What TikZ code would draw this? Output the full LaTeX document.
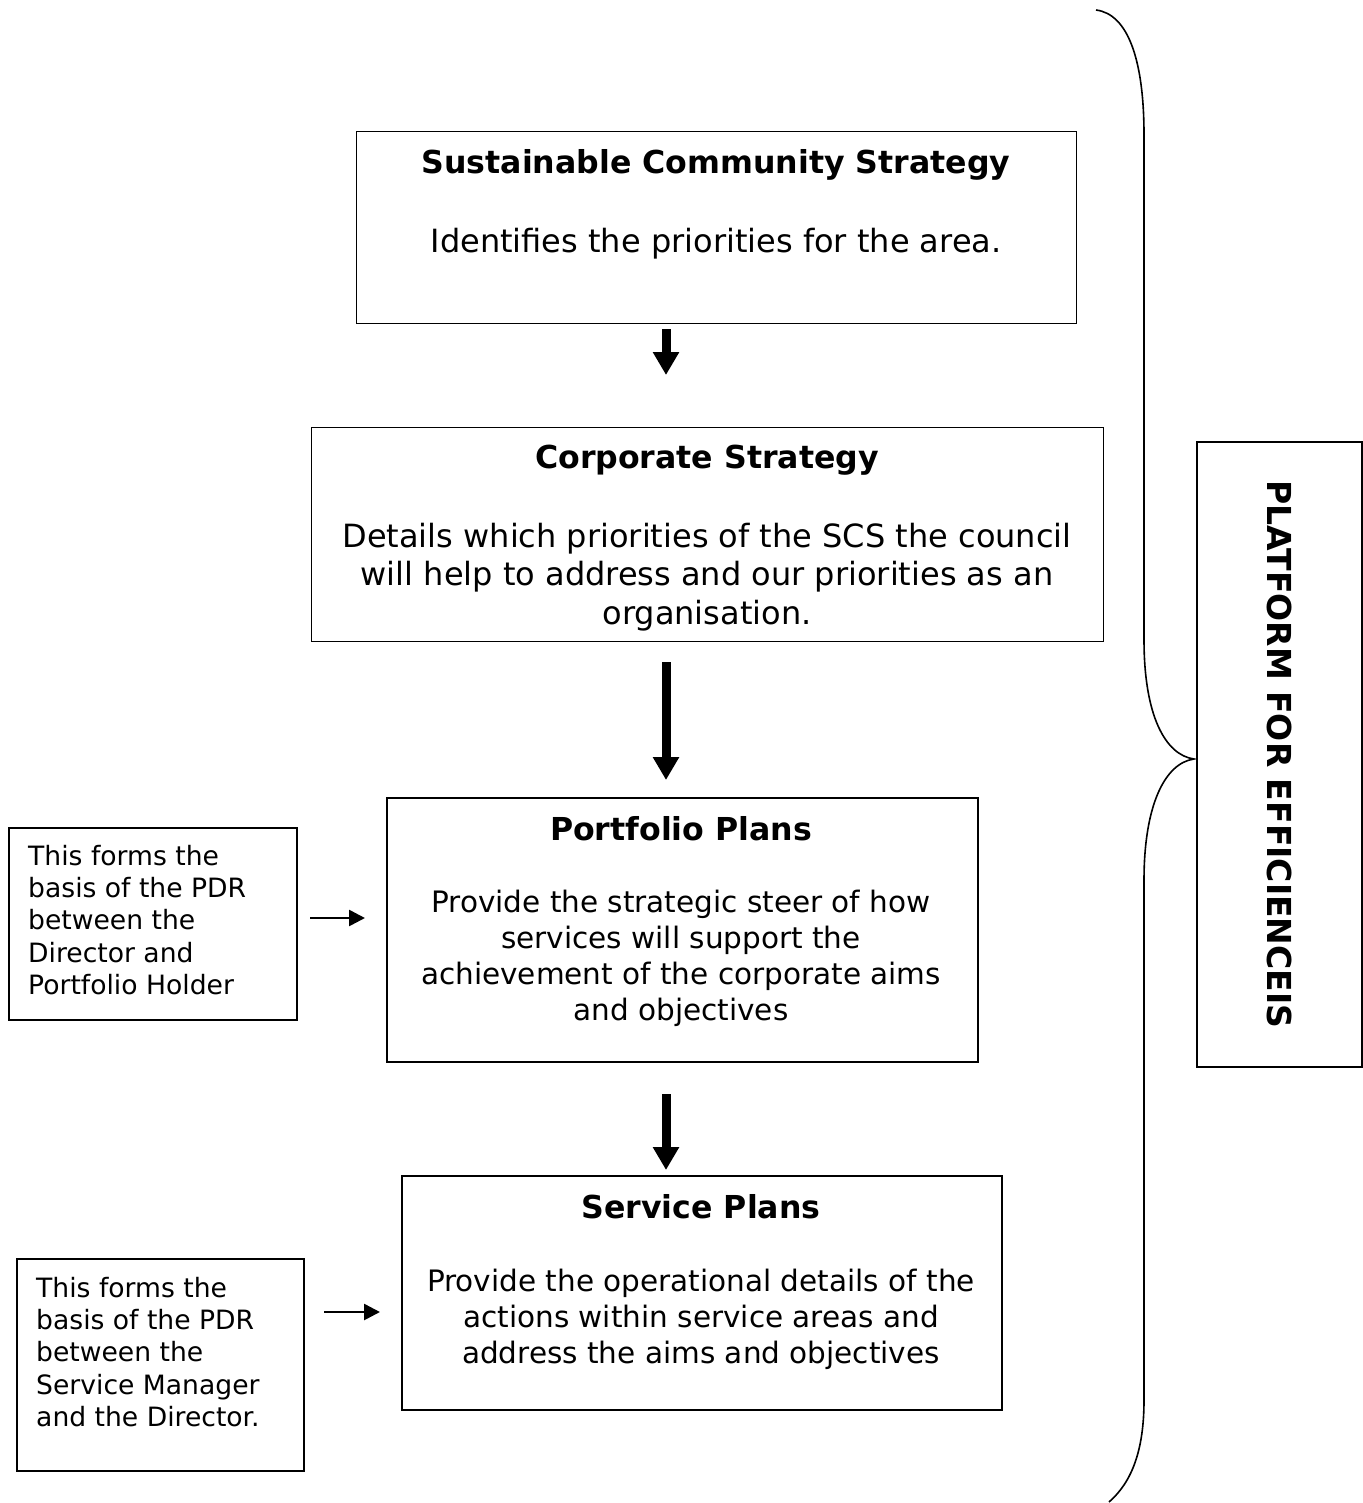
\documentclass[tikz,border=0pt]{standalone}
\usepackage{fontspec}
\setmainfont{DejaVu Sans}
\usetikzlibrary{arrows.meta}
\begin{document}
\begin{tikzpicture}[x=1pt,y=-1pt,
  boxthin/.style={draw,line width=1.2pt,inner sep=0pt,anchor=north west},
  titletxt/.style={font=\fontsize{31.6}{36}\selectfont\bfseries,inner sep=0pt},
  bodytxt/.style={font=\fontsize{29.5}{36}\selectfont,align=center,inner sep=0pt},
  sidetxt/.style={font=\fontsize{26.6}{32.3}\selectfont,align=left,inner sep=0pt,anchor=west},
  bigarr/.style={line width=9pt,-{Triangle[width=25pt,length=23pt]}},
  smallarr/.style={line width=2.6pt,-{Triangle[width=16pt,length=16pt]}},
  bracestyle/.style={line width=1.6pt}]
\useasboundingbox (0,0) rectangle (1362,1503);
% main boxes
\node[boxthin,minimum width=720pt,minimum height=192pt] (scs) at (356,131) {};
\node[boxthin,minimum width=792pt,minimum height=214pt] (corp) at (311,427) {};
\node[boxthin,line width=2.2pt,minimum width=591pt,minimum height=264pt] (port) at (386,797) {};
\node[boxthin,line width=1.6pt,minimum width=600pt,minimum height=234pt] (serv) at (401,1175) {};
% side boxes
\node[boxthin,line width=1.6pt,minimum width=288pt,minimum height=192pt] (side1) at (8,827) {};
\node[boxthin,line width=1.6pt,minimum width=287pt,minimum height=212pt] (side2) at (16,1258) {};
% right box
\node[boxthin,line width=1.8pt,minimum width=165pt,minimum height=625pt] (plat) at (1196,441) {};
% texts
\node[titletxt] (scst) at (716,165) {Sustainable Community Strategy};
\node[bodytxt,font=\fontsize{32}{38.5}\selectfont] (scsb) at (716,244) {Identifies the priorities for the area.};
\node[titletxt] (corpt) at (707,460) {Corporate Strategy};
\node[bodytxt,font=\fontsize{32}{38.5}\selectfont] (corpb) at (707,577) {Details which priorities of the SCS the council\\will help to address and our priorities as an\\organisation.};
\node[titletxt] (portt) at (681,829) {Portfolio Plans};
\node[bodytxt] (portb) at (681,958) {Provide the strategic steer of how\\services will support the\\achievement of the corporate aims\\and objectives};
\node[titletxt] (servt) at (701,1207) {Service Plans};
\node[bodytxt] (servb) at (701,1319) {Provide the operational details of the\\actions within service areas and\\address the aims and objectives};
\node[sidetxt] (side1t) at (28,920) {This forms the\\basis of the PDR\\between the\\Director and\\Portfolio Holder};
\node[sidetxt] (side2t) at (36,1352) {This forms the\\basis of the PDR\\between the\\Service Manager\\and the Director.};
\node[font=\fontsize{33}{36}\selectfont\bfseries,rotate=-90,inner sep=0pt] (platt) at (plat.center) {PLATFORM FOR EFFICIENCEIS};
% big arrows
\coordinate (ax) at (666,0);
\draw[bigarr,shorten <=5pt,shorten >=52pt] (scs.south -| ax) -- (corp.north -| ax);
\draw[bigarr,shorten <=20pt,shorten >=17pt] (corp.south -| ax) -- (port.north -| ax);
\draw[bigarr,shorten <=31pt,shorten >=5pt] (port.south -| ax) -- (serv.north -| ax);
% small arrows
\coordinate (s1a) at (310,918);
\coordinate (s2a) at (324,1312);
\draw[smallarr,shorten >=21pt] (s1a) -- (s1a -| port.west);
\draw[smallarr,shorten >=21pt] (s2a) -- (s2a -| serv.west);
% brace
\coordinate (btop) at (1096,10);
\coordinate (btip) at (1194,759);
\coordinate (bbot) at (1109,1502);
\draw[bracestyle] (btop) .. controls (1128,14) and (1144,60) .. (1144,135)
  -- (1144,640) .. controls (1144,715) and (1165,755) .. (btip)
  .. controls (1165,763) and (1144,805) .. (1144,880)
  -- (1144,1400) .. controls (1144,1450) and (1132,1482) .. (bbot);
\end{tikzpicture}
\end{document}
